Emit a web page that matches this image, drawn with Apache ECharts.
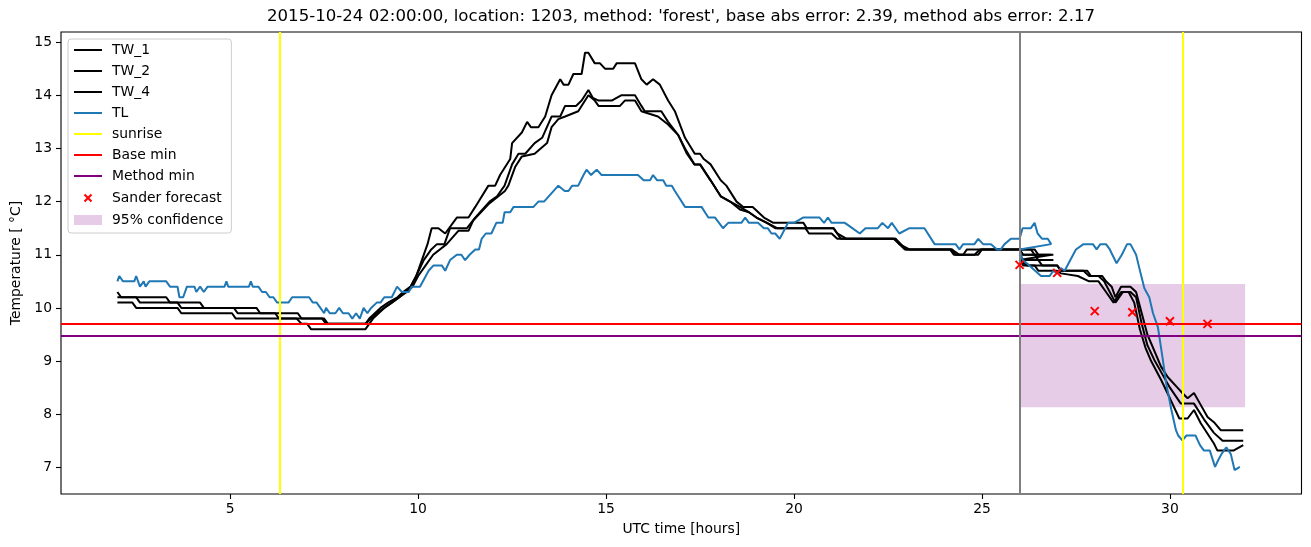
<!DOCTYPE html>
<html><head><meta charset="utf-8">
<script src="https://cdn.jsdelivr.net/npm/echarts@6/dist/echarts.min.js"></script>
<style>html,body{margin:0;padding:0;background:#fff}#c{width:1311px;height:547px}</style>
</head><body><div id="c"></div>
<script>
const titleText = "2015-10-24 02:00:00, location: 1203, method: 'forest', base abs error: 2.39, method abs error: 2.17";
const xTicks = [5, 10, 15, 20, 25, 30];
const yTicks = [7, 8, 9, 10, 11, 12, 13, 14, 15];

const tw1 = [[2.0,10.3],[2.1,10.2],[3.3,10.2],[3.4,10.1],[4.2,10.1],[4.3,10.0],[5.7,10.0],[5.8,9.9],[6.8,9.9],[6.9,9.8],[7.45,9.8],[7.55,9.7],[8.6,9.7],[8.75,9.8],[8.9,9.9],[9.1,10.0],[9.3,10.1],[9.5,10.2],[9.8,10.4],[9.95,10.6],[10.1,10.9],[10.25,11.2],[10.36,11.5],[10.54,11.5],[10.72,11.4],[11.03,11.7],[11.34,11.7],[11.52,11.9],[11.87,12.3],[12.05,12.3],[12.18,12.5],[12.45,12.8],[12.5,13.1],[12.76,13.3],[12.9,13.5],[13.0,13.4],[13.2,13.4],[13.38,13.6],[13.55,14.0],[13.78,14.3],[13.87,14.2],[14.0,14.2],[14.13,14.4],[14.35,14.4],[14.44,14.8],[14.53,14.8],[14.7,14.6],[14.84,14.6],[14.97,14.5],[15.19,14.5],[15.28,14.6],[15.77,14.6],[15.94,14.3],[16.08,14.2],[16.25,14.3],[16.43,14.2],[16.65,13.9],[16.83,13.7],[17.1,13.2],[17.36,12.9],[17.5,12.9],[17.6,12.8],[17.78,12.7],[18.05,12.4],[18.2,12.3],[18.47,12.0],[18.65,11.9],[18.9,11.9],[19.2,11.7],[19.45,11.6],[20.25,11.6],[20.34,11.5],[21.05,11.5],[21.15,11.4],[21.4,11.3],[22.7,11.3],[22.8,11.2],[23.07,11.1],[24.2,11.1],[24.3,11.0],[24.5,11.0],[24.6,11.1],[26.4,11.1],[26.5,11.0],[26.9,11.0],
  [26.0,11.0],[26.1,10.9],[26.5,10.9],[26.6,10.8],[27.0,10.8],[27.1,10.7],[27.8,10.7],[27.9,10.6],[28.2,10.6],[28.3,10.5],[28.45,10.4],[28.55,10.2],[28.7,10.4],[28.95,10.4],[29.1,10.3],[29.25,9.9],[29.4,9.5],[29.58,9.2],[29.76,8.9],[29.94,8.7],[30.2,8.5],[30.33,8.4],[30.47,8.3],[30.64,8.4],[30.8,8.2],[31.0,7.95],[31.17,7.85],[31.35,7.7],[31.95,7.7]];

const tw2 = [[2.0,10.2],[2.5,10.2],[2.6,10.1],[3.6,10.1],[3.7,10.0],[5.1,10.0],[5.2,9.9],[6.2,9.9],[6.3,9.8],[7.5,9.8],[7.6,9.7],[8.6,9.7],[8.7,9.8],[8.85,9.9],[9.0,10.0],[9.2,10.1],[9.45,10.2],[9.6,10.3],[9.8,10.4],[9.95,10.6],[10.15,10.9],[10.35,11.1],[10.5,11.2],[10.7,11.2],[10.85,11.5],[11.3,11.5],[11.52,11.7],[11.9,12.0],[12.1,12.1],[12.3,12.3],[12.5,12.7],[12.67,12.9],[12.85,12.9],[13.1,13.1],[13.3,13.2],[13.55,13.6],[13.78,13.6],[13.91,13.8],[14.2,13.8],[14.35,13.9],[14.53,14.1],[14.65,13.95],[14.8,13.9],[15.15,13.9],[15.4,14.0],[15.77,14.0],[15.94,13.8],[16.03,13.7],[16.47,13.7],[16.65,13.5],[16.92,13.25],[17.1,13.0],[17.35,12.7],[17.5,12.7],[17.78,12.4],[18.05,12.1],[18.3,12.0],[18.56,11.9],[18.8,11.8],[19.0,11.7],[19.28,11.6],[19.55,11.5],[21.05,11.5],[21.25,11.3],[22.7,11.3],[22.98,11.1],[24.2,11.1],[24.4,11.0],[24.9,11.0],[25.0,11.1],[26.3,11.1],[26.4,11.0],[26.85,11.0],
  [26.0,10.9],[26.2,10.8],[27.0,10.8],[27.1,10.7],[27.7,10.7],[27.85,10.6],[28.1,10.6],[28.25,10.5],[28.4,10.3],[28.55,10.1],[28.75,10.3],[28.95,10.3],[29.1,10.2],[29.25,9.7],[29.4,9.3],[29.6,9.0],[29.8,8.75],[30.0,8.5],[30.29,8.2],[30.64,8.2],[30.91,7.9],[31.17,7.65],[31.4,7.5],[31.95,7.5]];

const tw4 = [[2.0,10.1],[2.4,10.1],[2.5,10.0],[3.6,10.0],[3.7,9.9],[5.05,9.9],[5.15,9.8],[6.77,9.8],[6.9,9.7],[7.05,9.7],[7.15,9.6],[8.6,9.6],[8.7,9.7],[8.8,9.8],[8.95,9.9],[9.1,10.0],[9.3,10.1],[9.5,10.2],[9.7,10.3],[9.85,10.4],[10.0,10.6],[10.2,10.8],[10.4,11.0],[10.76,11.2],[11.07,11.45],[11.34,11.45],[11.47,11.65],[11.87,11.95],[12.31,12.2],[12.4,12.3],[12.58,12.65],[12.76,12.85],[13.1,12.9],[13.43,13.1],[13.55,13.4],[13.73,13.55],[13.91,13.6],[14.26,13.7],[14.53,14.0],[14.7,13.9],[14.8,13.8],[15.37,13.8],[15.5,13.9],[15.77,13.9],[15.94,13.7],[16.38,13.6],[16.65,13.45],[16.92,13.25],[17.15,12.9],[17.35,12.7],[17.5,12.7],[17.78,12.4],[18.05,12.1],[18.3,12.0],[18.56,11.85],[18.8,11.8],[19.0,11.7],[19.28,11.6],[19.5,11.5],[20.3,11.5],[20.4,11.4],[21.0,11.4],[21.15,11.3],[22.65,11.3],[22.8,11.2],[22.95,11.1],[24.15,11.1],[24.25,11.0],[24.8,11.0],[24.95,11.1],[26.0,11.1],[26.1,11.0],[26.4,11.0],[26.5,10.9],[26.9,10.9],
  [26.0,10.9],[26.1,10.8],[26.4,10.8],[26.5,10.7],[27.0,10.7],[27.1,10.65],[27.55,10.6],[27.85,10.5],[28.1,10.5],[28.3,10.3],[28.5,10.1],[28.7,10.3],[28.9,10.3],[29.05,10.1],[29.2,9.6],[29.35,9.25],[29.5,9.0],[29.77,8.64],[30.0,8.3],[30.25,7.92],[30.47,7.92],[30.64,8.08],[30.82,7.83],[31.17,7.45],[31.26,7.32],[31.7,7.32],[31.95,7.42]];

const tl = [[2.0,10.5],[2.05,10.6],[2.15,10.5],[2.45,10.5],[2.5,10.6],[2.6,10.4],[2.7,10.5],[2.75,10.4],[2.85,10.5],[3.3,10.5],[3.4,10.4],[3.6,10.4],[3.65,10.2],[3.75,10.2],[3.85,10.4],[4.05,10.4],[4.1,10.3],[4.2,10.4],[4.3,10.3],[4.4,10.4],[4.85,10.4],[4.9,10.5],[4.95,10.4],[5.5,10.4],[5.55,10.5],[5.6,10.4],[5.75,10.4],[5.85,10.3],[5.95,10.3],[6.05,10.2],[6.15,10.2],[6.25,10.1],[6.55,10.1],[6.65,10.2],[7.1,10.2],[7.2,10.1],[7.3,10.1],[7.4,10.0],[7.5,9.9],[7.55,10.0],[7.65,9.9],[7.8,9.9],[7.9,10.0],[8.0,9.9],[8.15,9.9],[8.25,9.8],[8.35,9.9],[8.45,9.8],[8.55,10.0],[8.65,9.9],[8.75,10.0],[8.9,10.1],[9.0,10.1],[9.1,10.2],[9.3,10.2],[9.44,10.4],[9.57,10.3],[9.75,10.3],[9.83,10.4],[10.05,10.4],[10.28,10.7],[10.41,10.8],[10.63,10.8],[10.72,10.7],[10.85,10.9],[11.03,11.0],[11.15,11.0],[11.25,10.9],[11.37,11.0],[11.52,11.1],[11.62,11.1],[11.69,11.3],[11.8,11.4],[11.95,11.4],[12.08,11.6],[12.25,11.6],[12.3,11.8],[12.45,11.8],[12.54,11.9],[13.07,11.9],[13.2,12.0],[13.35,12.0],[13.73,12.3],[13.9,12.2],[14.0,12.2],[14.1,12.3],[14.26,12.3],[14.4,12.5],[14.48,12.6],[14.6,12.5],[14.75,12.6],[14.88,12.5],[15.85,12.5],[16.0,12.4],[16.17,12.4],[16.25,12.5],[16.36,12.4],[16.52,12.4],[16.6,12.3],[16.75,12.3],[16.83,12.2],[16.92,12.1],[17.1,11.9],[17.54,11.9],[17.72,11.7],[17.9,11.7],[18.11,11.5],[18.25,11.6],[18.6,11.6],[18.7,11.7],[18.8,11.6],[19.04,11.6],[19.2,11.5],[19.3,11.5],[19.4,11.4],[19.5,11.4],[19.62,11.3],[19.84,11.6],[20.0,11.6],[20.24,11.7],[20.68,11.7],[20.8,11.6],[20.9,11.7],[21.0,11.6],[21.35,11.6],[21.55,11.5],[21.75,11.4],[21.9,11.5],[22.23,11.5],[22.35,11.6],[22.5,11.5],[22.6,11.6],[22.8,11.4],[23.07,11.5],[23.47,11.5],[23.74,11.2],[24.3,11.2],[24.4,11.1],[24.5,11.2],[24.8,11.2],[24.9,11.3],[25.03,11.2],[25.24,11.2],[25.4,11.1],[25.5,11.1],[25.6,11.2],[25.77,11.3],[26.0,11.3],[26.08,11.5],[26.3,11.5],[26.4,11.6],[26.48,11.4],[26.6,11.3],[26.75,11.3],[26.84,11.2],
  [26.0,11.1],[26.08,10.9],[26.26,10.8],[26.57,10.6],[26.8,10.6],[26.9,10.7],[27.0,10.65],[27.1,10.75],[27.2,10.7],[27.35,10.9],[27.5,11.1],[27.7,11.2],[27.8,11.2],[27.95,11.2],[28.05,11.1],[28.15,11.2],[28.3,11.2],[28.4,11.1],[28.58,10.84],[28.72,11.0],[28.86,11.2],[28.95,11.2],[29.1,11.0],[29.22,10.65],[29.32,10.37],[29.45,10.2],[29.55,9.9],[29.68,9.64],[29.8,9.08],[29.9,8.58],[30.04,8.08],[30.16,7.7],[30.22,7.6],[30.33,7.51],[30.44,7.6],[30.55,7.6],[30.68,7.6],[30.8,7.42],[30.9,7.32],[31.06,7.32],[31.2,7.01],[31.28,7.13],[31.37,7.25],[31.5,7.38],[31.62,7.25],[31.72,6.95],[31.86,7.01]];

const forecastHours = [26, 27, 28, 29, 30, 31];
const forecastTemps = [10.81, 10.66, 9.94, 9.92, 9.75, 9.70];
const sunriseHours = [6.33, 30.33];
const forecastStart = 26;
const baseMin = 9.70;
const methodMin = 9.47;
const confStart = 26, confEnd = 32, confLow = 8.13, confHigh = 10.45;

const FONT = 'DejaVu Sans';
const LINE_ICON = 'path://M0,0M28,14M0,6L28,6L28,8L0,8Z';
const chart = echarts.init(document.getElementById('c'), null, {renderer: 'canvas'});

function lineSeries(name, data, color) {
  return {name, type: 'line', data, showSymbol: false, symbol: 'none', animation: false,
    lineStyle: {color, width: 2}, itemStyle: {color}, z: 3};
}
function vmark(name, color, values, z) {
  return {name, type: 'line', data: [], symbol: 'none', animation: false, z,
    lineStyle: {color, width: 2}, itemStyle: {color},
    markLine: {silent: true, symbol: ['none', 'none'], animation: false, label: {show: false},
      lineStyle: {color, width: 2, type: 'solid'}, emphasis: {disabled: true},
      data: values}};
}

const option = {
  animation: false,
  backgroundColor: '#fff',
  graphic: [{type: 'text', x: 681, y: 17, style: {text: titleText, align: 'center', verticalAlign: 'middle',
    font: '16.6px "DejaVu Sans"', fill: '#000'}}],
  grid: {left: 61, right: 9.5, top: 32, bottom: 53, show: true, borderColor: '#000', borderWidth: 1.1, backgroundColor: 'transparent'},
  legend: {
    orient: 'vertical', left: 68, top: 39, itemWidth: 28, itemHeight: 14, itemGap: 7,
    padding: [4, 8, 6, 5], backgroundColor: 'rgba(255,255,255,0.8)', borderColor: '#cccccc', borderWidth: 1, borderRadius: 3,
    textStyle: {fontFamily: FONT, fontSize: 13.9, color: '#000', lineHeight: 14, padding: [0, 0, 0, 5]},
    selectedMode: false,
    data: [
      {name: 'TW_1', icon: LINE_ICON}, {name: 'TW_2', icon: LINE_ICON}, {name: 'TW_4', icon: LINE_ICON}, {name: 'TL', icon: LINE_ICON},
      {name: 'sunrise', icon: LINE_ICON}, {name: 'Base min', icon: LINE_ICON}, {name: 'Method min', icon: LINE_ICON},
      {name: 'Sander forecast', icon: 'path://M0,0M28,14M10.5,3.5L17.5,10.5M17.5,3.5L10.5,10.5'},
      {name: '95% confidence', icon: 'path://M0,0L28,0L28,10L0,10Z'}
    ]
  },
  xAxis: {
    type: 'value', min: 0.5, max: 33.5,
    name: 'UTC time [hours]', nameLocation: 'middle', nameGap: 28,
    nameTextStyle: {fontFamily: FONT, fontSize: 13.9, color: '#000'},
    axisLine: {show: false},
    axisTick: {show: true, length: 5, lineStyle: {color: '#000', width: 1.1}, customValues: xTicks},
    axisLabel: {fontFamily: FONT, fontSize: 13.9, color: '#000', margin: 8, customValues: xTicks},
    splitLine: {show: false}
  },
  yAxis: {
    type: 'value', min: 6.5, max: 15.19,
    name: 'Temperature [ °C]', nameLocation: 'middle', nameGap: 35, nameRotate: 90,
    nameTextStyle: {fontFamily: FONT, fontSize: 13.9, color: '#000'},
    axisLine: {show: false},
    axisTick: {show: true, length: 5, lineStyle: {color: '#000', width: 1.1}, customValues: yTicks},
    axisLabel: {fontFamily: FONT, fontSize: 13.9, color: '#000', margin: 9, customValues: yTicks},
    splitLine: {show: false}
  },
  series: [
    lineSeries('TW_1', tw1, '#000000'),
    lineSeries('TW_2', tw2, '#000000'),
    lineSeries('TW_4', tw4, '#000000'),
    lineSeries('TL', tl, '#1f77b4'),
    vmark('sunrise', '#ffff00', sunriseHours.map(h => ({xAxis: h})), 4),
    vmark('Base min', '#ff0000', [{yAxis: baseMin}], 4),
    vmark('Method min', '#800080', [{yAxis: methodMin}], 4),
    {name: 'forecast start', type: 'line', data: [], symbol: 'none', animation: false, z: 4,
      markLine: {silent: true, symbol: ['none', 'none'], animation: false, label: {show: false},
        lineStyle: {color: '#808080', width: 2, type: 'solid'}, data: [{xAxis: forecastStart}]}},
    {name: 'Sander forecast', type: 'scatter', animation: false, z: 5,
      data: forecastHours.map((h, i) => [h, forecastTemps[i]]),
      symbol: 'path://M0,0L10,10M10,0L0,10', symbolSize: 8,
      itemStyle: {color: 'rgba(0,0,0,0)', borderColor: '#ff0000', borderWidth: 2, opacity: 1}},
    {name: '95% confidence', type: 'line', data: [], symbol: 'none', animation: false, z: 1,
      itemStyle: {color: 'rgba(128,0,128,0.2)'}, lineStyle: {width: 0},
      markArea: {silent: true, animation: false, itemStyle: {color: 'rgba(128,0,128,0.2)'},
        data: [[{xAxis: confStart, yAxis: confLow}, {xAxis: confEnd, yAxis: confHigh}]]}}
  ]
};
chart.setOption(option);
</script></body></html>
